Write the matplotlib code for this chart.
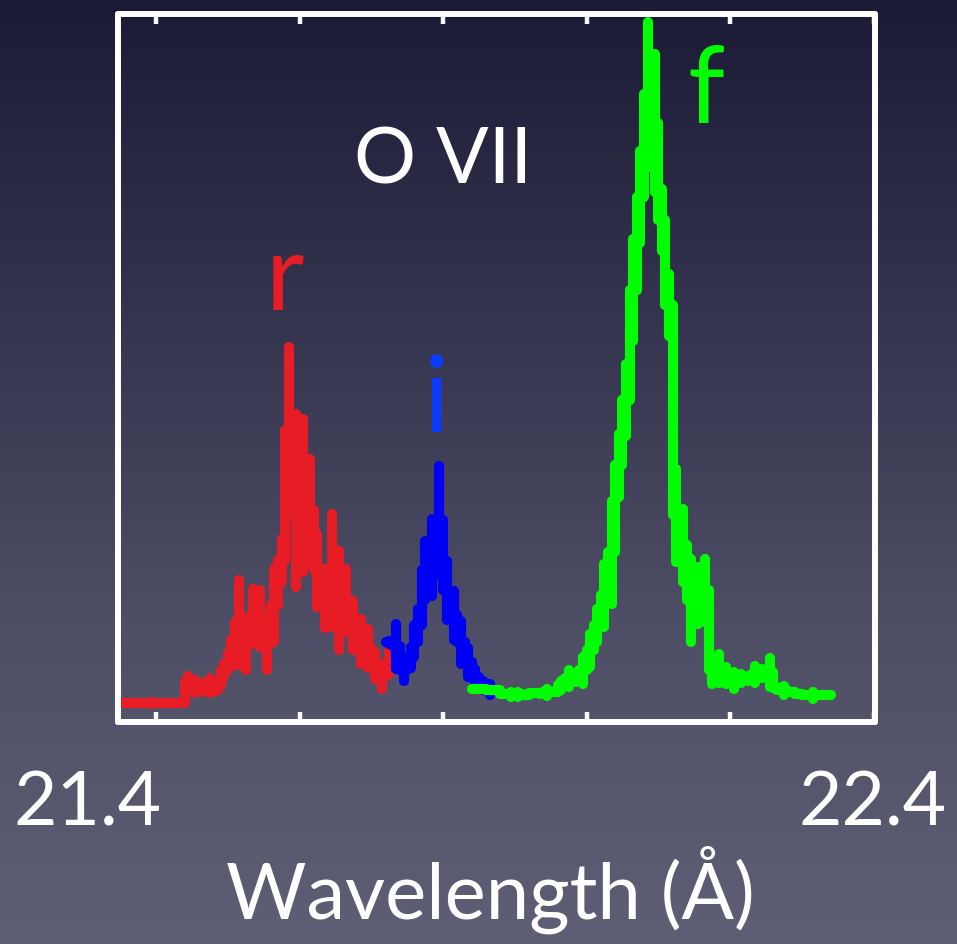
import numpy as np
import matplotlib
matplotlib.use('Agg')
import matplotlib.pyplot as plt
from matplotlib.colors import LinearSegmentedColormap

# ---------------- data ----------------
red_wl = [21.355, 21.365, 21.375, 21.385, 21.395, 21.405, 21.415, 21.425, 21.435,
          21.445, 21.455, 21.465, 21.475, 21.485, 21.495, 21.505, 21.515, 21.525,
          21.535, 21.545, 21.555, 21.565, 21.575, 21.585, 21.595, 21.605, 21.615,
          21.625, 21.635, 21.645, 21.655, 21.665, 21.675, 21.685, 21.695, 21.705,
          21.715, 21.725]
red_cts = [1.9, 1.9, 1.9, 1.9, 1.9, 1.9, 1.9, 1.9, 1.9,
           4.0, 3.6, 3.5, 3.7, 3.6, 5.2, 6.9, 10.0, 7.7,
           10.6, 10.4, 7.9, 11.7, 16.2, 29.2, 22.2, 22.7, 21.2,
           15.2, 12.4, 15.2, 12.2, 12.2, 9.7, 8.1, 7.4, 5.7,
           4.6, 6.0]
red_err = [0, 0, 0, 0, 0.1, 0, 0, 0, 0,
           0.65, 0.65, 0.45, 0.75, 0.45, 0.65, 1.35, 4.25, 2.45,
           2.75, 2.85, 2.65, 3.65, 2.15, 8.35, 8.65, 7.65, 5.15,
           3.65, 2.95, 5.65, 4.95, 3.15, 2.45, 2.25, 1.95, 1.35,
           1.25, 1.15]

blue_wl = [21.725, 21.735, 21.745, 21.755, 21.765, 21.775, 21.785, 21.795,
           21.805, 21.815, 21.825, 21.835, 21.845, 21.855, 21.865]
blue_cts = [8.0, 7.6, 5.2, 6.5, 9.7, 15.2, 16.5, 20.2,
            13.2, 10.7, 8.0, 6.0, 4.5, 3.7, 3.3]
blue_err = [0.15, 2.25, 1.05, 1.05, 1.65, 2.95, 3.85, 5.45,
            2.95, 2.45, 2.15, 1.45, 0.85, 0.45, 0.55]

green_wl = [21.845, 21.855, 21.865, 21.875, 21.885, 21.895, 21.905, 21.915, 21.925, 21.935,
            21.945, 21.955, 21.965, 21.975, 21.985, 21.995, 22.005, 22.015, 22.025, 22.035,
            22.045, 22.055, 22.065, 22.075, 22.085, 22.095, 22.105, 22.115, 22.125, 22.135,
            22.145, 22.155, 22.165, 22.175, 22.185, 22.195, 22.205, 22.215, 22.225, 22.235,
            22.245, 22.255, 22.265, 22.275, 22.285, 22.295, 22.305, 22.315, 22.325, 22.335]
green_cts = [3.3, 3.3, 3.2, 3.2, 2.8, 2.8, 2.8, 2.7, 2.9, 2.9,
             3.0, 3.0, 3.7, 4.4, 4.5, 5.2, 7.2, 9.7, 12.7, 17.0,
             25.7, 32.2, 43.2, 52.5, 62.8, 59.9, 50.2, 41.7, 20.7, 17.7,
             12.2, 12.7, 13.2, 5.2, 5.4, 4.7, 4.2, 4.4, 4.4, 4.8,
             4.9, 5.0, 3.4, 3.2, 3.0, 2.8, 2.7, 2.7, 2.7, 2.7]
green_err = [0, 0, 0, 0, 0, 0.25, 0.25, 0, 0, 0.05,
             0.35, 0, 0.45, 0.85, 0.45, 1.35, 1.65, 1.65, 3.15, 5.15,
             3.15, 3.65, 5.15, 4.6, 7.25, 6.9, 3.15, 3.15, 4.65, 3.65,
             4.15, 2.85, 3.15, 1.35, 1.45, 0.85, 0.85, 0.45, 0.25, 0.85,
             0.45, 1.45, 0.15, 0.45, 0, 0, 0, 0.35, 0, 0]

x_ticks = [21.4, 21.6, 21.8, 22.0, 22.2, 22.4]
end_labels = ["21.4", "22.4"]
line_labels = ["r", "i", "f"]
ion_label = "O VII"
x_title = "Wavelength (Å)"

# ---------------- styling ----------------
W, H = 957, 944
FONT = ['Lato', 'DejaVu Sans']
RED = '#e81c24'
BLUE = '#0000f5'
BLUE_LBL = '#0a3cff'
GREEN = '#00ff00'
LW = 7.3

fig = plt.figure(figsize=(W / 100, H / 100), dpi=100)

# gradient background
bg = fig.add_axes([0, 0, 1, 1], zorder=-10)
cmap = LinearSegmentedColormap.from_list('bg', ['#1b1b37', '#34344f', '#4e4e66', '#5e5e74'])
grad = np.linspace(0, 1, 256).reshape(-1, 1)
bg.imshow(grad, aspect='auto', cmap=cmap, extent=[0, 1, 0, 1], origin='upper')
bg.set_axis_off()

# main axes
L, R, B, T = 118, 875, 722, 14
ax = fig.add_axes([L / W, 1 - B / H, (R - L) / W, (B - T) / H])
ax.set_facecolor('none')
ax.set_xlim(21.347, 22.402)
ax.set_ylim(0, 70.8)

def draw(wl, cts, err, color, z):
    wl = np.asarray(wl)
    cts = np.asarray(cts)
    err = np.asarray(err)
    edges = np.concatenate([wl - 0.005, [wl[-1] + 0.005]])
    st = ax.stairs(cts, edges, baseline=None, color=color, lw=LW, zorder=z)
    st.set_capstyle('round')
    st.set_joinstyle('round')
    ax.vlines(wl, cts - err, cts + err, color=color, lw=LW, zorder=z,
              capstyle='round')

draw(red_wl, red_cts, red_err, RED, 2)
draw(blue_wl, blue_cts, blue_err, BLUE, 3)
draw(green_wl, green_cts, green_err, GREEN, 4)

for s in ax.spines.values():
    s.set_color('white')
    s.set_linewidth(4.3)
    s.set_capstyle('round')
ax.set_xticks(x_ticks)
ax.set_yticks([])
ax.tick_params(axis='x', direction='in', length=7.5, width=3.2, color='white',
               top=True, bottom=True, labelbottom=False, labeltop=False)

def ftxt(x, y, s, size, color='white', ha='center'):
    fig.text(x / W, 1 - y / H, s, fontsize=size, color=color, ha=ha,
             va='baseline', family=FONT)

ftxt(443, 183, ion_label, 56)
ftxt(285, 310, line_labels[0], 76, RED)
ftxt(437, 432, line_labels[1], 76, BLUE_LBL)
ftxt(706, 123, line_labels[2], 76, GREEN)
ftxt(88, 825, end_labels[0], 54)
ftxt(873, 825, end_labels[1], 54)
ftxt(490, 920, x_title, 56)

fig.savefig('out.png', dpi=100)
